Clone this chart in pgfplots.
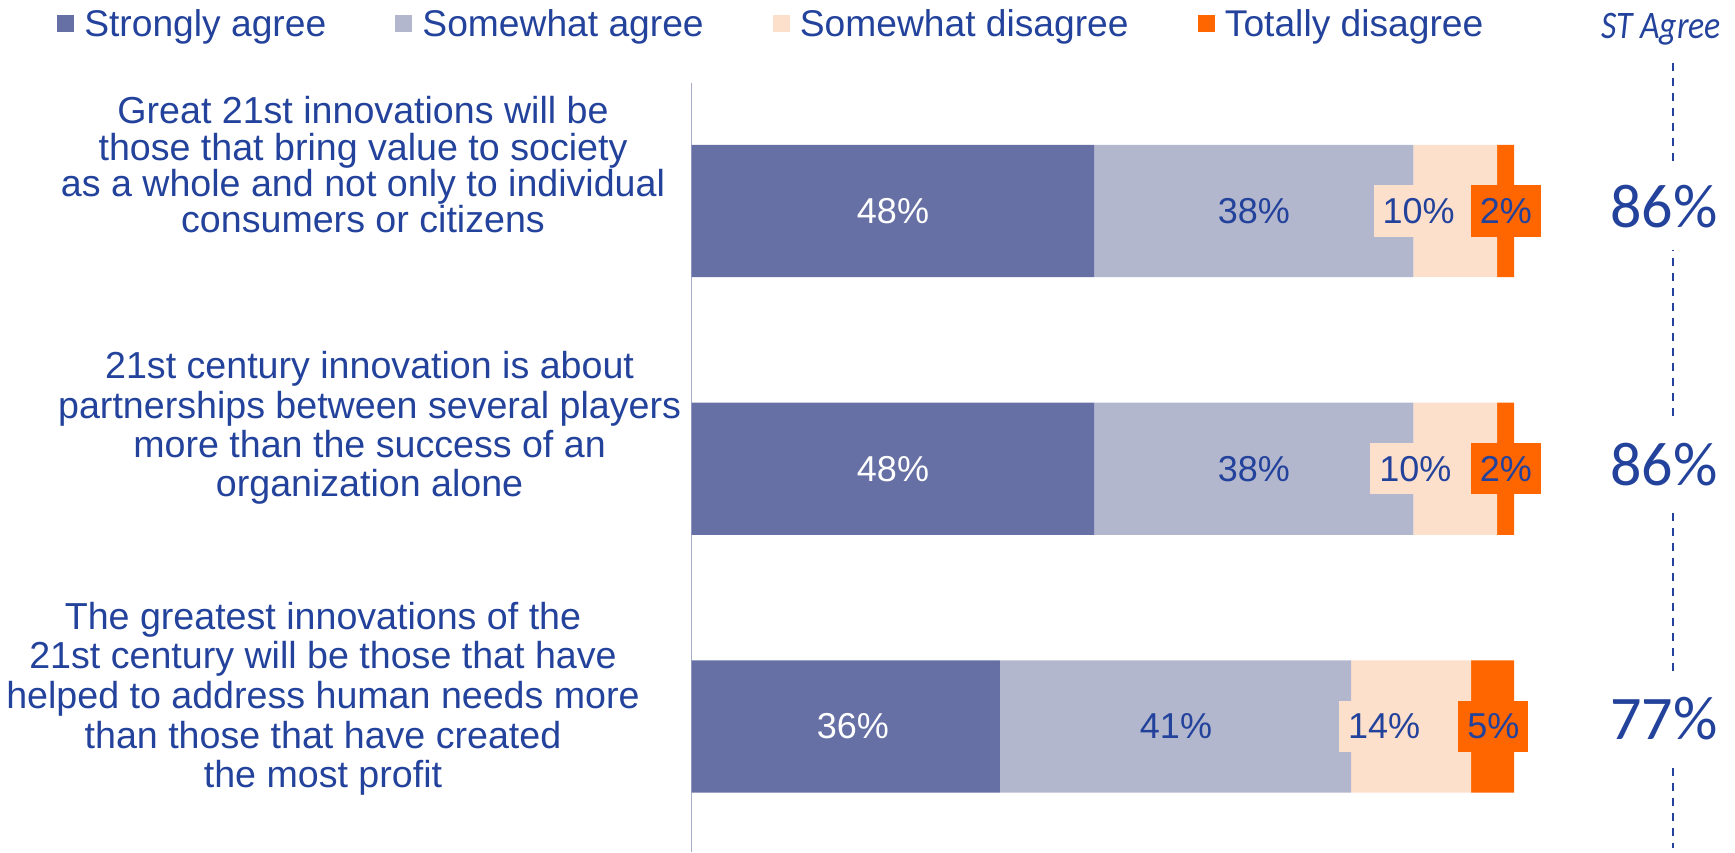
\documentclass[border=0pt]{standalone}
\usepackage{fontspec}
\setmainfont{Liberation Sans}
\newfontfamily\calibri{Carlito}
\newfontfamily\calibricond[FakeStretch=0.865]{Carlito}
\usepackage{pgfplots}
\pgfplotsset{compat=1.18}

\definecolor{sa}{RGB}{102,112,164}
\definecolor{wa}{RGB}{179,183,206}
\definecolor{wd}{RGB}{253,224,204}
\definecolor{td}{RGB}{255,102,0}
\definecolor{tblue}{RGB}{35,66,155}
\definecolor{axgray}{RGB}{168,172,200}

\begin{document}
\begin{tikzpicture}
\begin{axis}[
  at={(0pt,0pt)}, anchor=south west,
  scale only axis, width=411.2pt, height=384.6pt,
  xmin=0, xmax=100, ymin=-0.497, ymax=2.487,
  y dir=reverse,
  xbar stacked, bar width=66.15pt,
  axis x line=none, axis y line*=left,
  y axis line style={axgray, line width=0.8pt},
  xtick=\empty, ytick=\empty,
  clip=false,
  legend columns=4,
  legend image code/.code={\fill[#1] (0pt,-3.8pt) rectangle (8.5pt,4.7pt);},
  legend style={at={(-0.7717,1.0758)}, anchor=west, draw=none, fill=none,
    inner sep=0pt, nodes={inner sep=0pt, text=tblue},
    font=\fontsize{18.6}{20}\selectfont,
    /tikz/every odd column/.append style={column sep=5pt},
    /tikz/every even column/.append style={column sep=34.6pt}},
]
% segment widths normalised so that each bar fills the full width
\addplot[fill=sa, draw=none] coordinates {(48.98,0) (48.98,1) (37.50,2)};
\addlegendentry{Strongly agree}
\addplot[fill=wa, draw=none] coordinates {(38.78,0) (38.78,1) (42.71,2)};
\addlegendentry{Somewhat agree}
\addplot[fill=wd, draw=none] coordinates {(10.20,0) (10.20,1) (14.58,2)};
\addlegendentry{Somewhat disagree}
\addplot[fill=td, draw=none] coordinates {(2.04,0) (2.04,1) (5.21,2)};
\addlegendentry{Totally disagree}

% anchor points for the value labels
\coordinate (a1) at (axis cs:24.49,0);
\coordinate (b1) at (axis cs:68.37,0);
\coordinate (c1) at (axis cs:88.4,0);
\coordinate (d1) at (axis cs:99.0,0);
\coordinate (a2) at (axis cs:24.49,1);
\coordinate (b2) at (axis cs:68.37,1);
\coordinate (c2) at (axis cs:88.0,1);
\coordinate (d2) at (axis cs:99.0,1);
\coordinate (a3) at (axis cs:19.6,2);
\coordinate (b3) at (axis cs:58.9,2);
\coordinate (c3) at (axis cs:84.2,2);
\coordinate (d3) at (axis cs:97.5,2);
\end{axis}

\tikzset{vl/.style={font=\fontsize{18}{20}\selectfont, text=tblue, inner sep=0pt},
         bx/.style={vl, inner xsep=4.5pt, minimum height=25.8pt}}
\node[vl, text=white] at (a1) {48\%};
\node[vl] at (b1) {38\%};
\node[bx, fill=wd] at (c1) {10\%};
\node[bx, fill=td] at (d1) {2\%};
\node[vl, text=white] at (a2) {48\%};
\node[vl] at (b2) {38\%};
\node[bx, fill=wd] at (c2) {10\%};
\node[bx, fill=td] at (d2) {2\%};
\node[vl, text=white] at (a3) {36\%};
\node[vl] at (b3) {41\%};
\node[bx, fill=wd] at (c3) {14\%};
\node[bx, fill=td] at (d3) {5\%};

% category labels
\tikzset{cl/.style={align=center, text=tblue, inner sep=0pt}}
\node[cl, font=\fontsize{18.8}{18.2}\selectfont] at (-164.3pt,343.6pt) {Great 21st innovations will be\\those that bring value to society\\as a whole and not only to individual\\consumers or citizens};
\node[cl, font=\fontsize{18.8}{19.7}\selectfont] at (-161pt,212pt) {21st century innovation is about\\partnerships between several players\\more than the success of an\\organization alone};
\node[cl, font=\fontsize{18.8}{19.8}\selectfont] at (-184.3pt,76.6pt) {The greatest innovations of the\\21st century will be those that have\\helped to address human needs more\\than those that have created\\the most profit};

% ST Agree column
\draw[tblue, line width=1pt, dash pattern=on 4pt off 3.5pt] (490.7pt,394.5pt) -- (490.7pt,2pt);
\node[text=tblue, inner sep=0pt, font=\calibricond\itshape\fontsize{19.5}{22}\selectfont] at (484.7pt,411.5pt) {ST Agree};
\tikzset{pc/.style={text=tblue, fill=white, inner xsep=2pt, minimum height=43.3pt, font=\calibri\fontsize{31}{34}\selectfont}}
\node[pc] at (486.2pt,322.65pt) {86\%};
\node[pc] at (486.2pt,193.7pt) {86\%};
\node[pc] at (486.2pt,66.85pt) {77\%};

\pgfresetboundingbox
\path (-345.8pt,0pt) rectangle (521.7pt,426pt);
\end{tikzpicture}
\end{document}
